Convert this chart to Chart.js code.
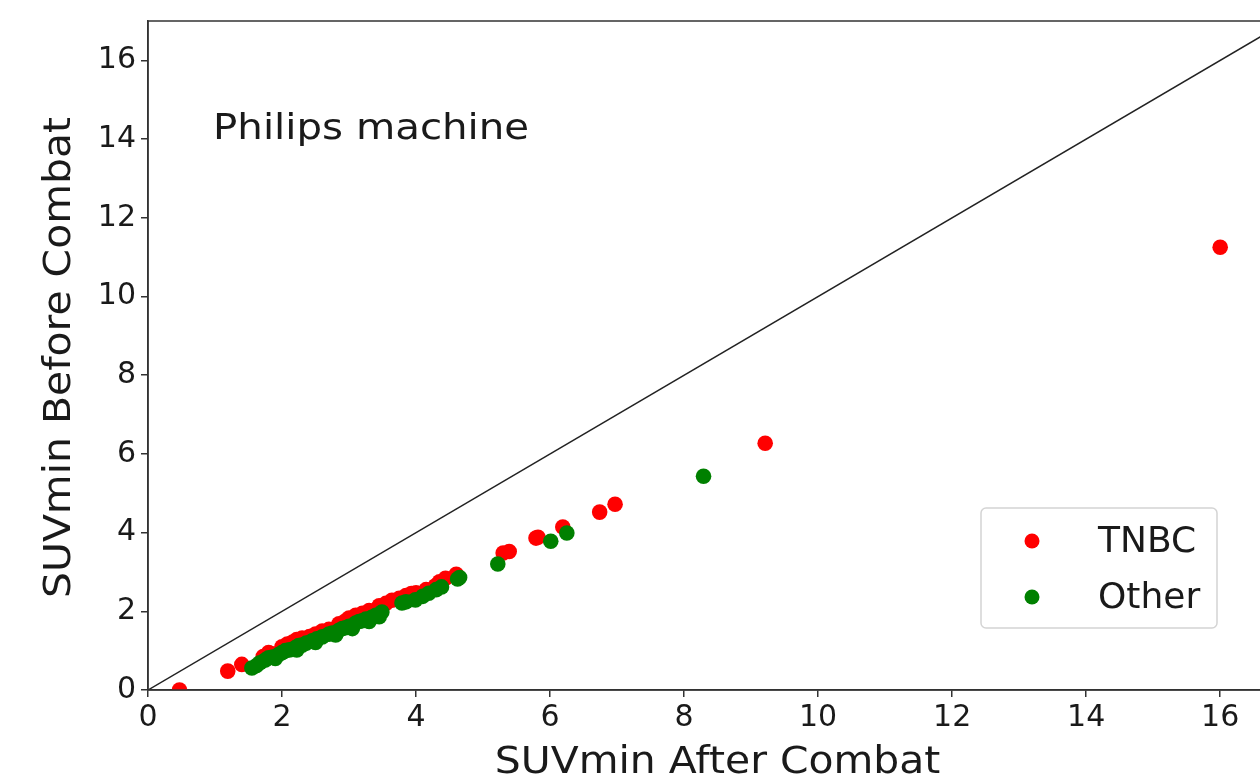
<!DOCTYPE html>
<html>
<head>
	<title>SUVmin Before / After Combat</title>
	<script src="https://cdn.jsdelivr.net/npm/chart.js"></script>
	<style type="text/css">
		html, body { margin: 0; padding: 0; background: #fff; overflow: hidden; }
		canvas { display: block; }
	</style>
</head>
<body>
	<!-- 右端は参照画像と同じく見切れる -->
	<canvas id="chart" width="1295" height="778"></canvas>

	<script>
		// TNBC points (after, before)
		var tnbcX = [0.47, 1.19, 1.40, 1.72, 1.80, 1.85, 2.00, 2.08, 2.16, 2.22, 2.30, 2.41, 2.50, 2.60, 2.70, 2.85, 2.95, 3.00, 3.10, 3.20, 3.30, 3.45, 3.55, 3.64, 3.75, 3.85, 3.93, 4.00, 4.15, 4.29, 4.35, 4.44, 4.60, 5.30, 5.39, 5.79, 5.82, 6.19, 6.74, 6.97, 9.21, 16.0];
		var tnbcY = [0.00, 0.48, 0.65, 0.85, 0.95, 0.92, 1.10, 1.17, 1.22, 1.28, 1.32, 1.36, 1.42, 1.50, 1.54, 1.68, 1.76, 1.83, 1.90, 1.95, 2.02, 2.14, 2.20, 2.28, 2.33, 2.40, 2.45, 2.47, 2.55, 2.65, 2.75, 2.84, 2.94, 3.48, 3.52, 3.86, 3.88, 4.14, 4.52, 4.72, 6.27, 11.25];
		// Other points
		var otherX = [1.55, 1.62, 1.67, 1.75, 1.80, 1.86, 1.90, 1.95, 2.00, 2.05, 2.11, 2.20, 2.22, 2.25, 2.30, 2.36, 2.45, 2.50, 2.52, 2.60, 2.70, 2.75, 2.80, 2.85, 2.90, 2.95, 3.00, 3.05, 3.10, 3.15, 3.20, 3.25, 3.30, 3.34, 3.40, 3.45, 3.49, 3.79, 3.85, 3.99, 4.10, 4.19, 4.30, 4.38, 4.62, 4.65, 5.22, 6.01, 6.25, 8.29];
		var otherY = [0.56, 0.62, 0.69, 0.76, 0.82, 0.84, 0.80, 0.90, 0.95, 1.00, 1.02, 1.08, 1.02, 1.13, 1.14, 1.19, 1.25, 1.21, 1.30, 1.35, 1.42, 1.45, 1.40, 1.52, 1.56, 1.58, 1.62, 1.56, 1.70, 1.74, 1.76, 1.80, 1.74, 1.85, 1.90, 1.86, 1.98, 2.21, 2.24, 2.29, 2.38, 2.46, 2.55, 2.62, 2.82, 2.86, 3.20, 3.78, 3.99, 5.43];
		var diagX = [0, 17];
		var xMax = 17;
		var yMax = 17;
		var seriesNames = ['TNBC', 'Other'];
		var seriesColors = ['red', 'green'];
		var xTitle = 'SUVmin After Combat';
		var yTitle = 'SUVmin Before Combat';
		var note = 'Philips machine';

		function pts(xs, ys) {
			return xs.map(function(v, i) { return {x: v, y: ys[i]}; });
		}

		var FONT = "'DejaVu Sans', sans-serif";
		var INK = '#1a1a1a';
		var STRETCH = 1.12; // 参照の文字は横に少し広い

		function wideText(c, text, x, y, align) {
			c.save();
			c.translate(x, y);
			c.scale(STRETCH, 1);
			c.textAlign = align;
			c.fillText(text, 0, 0);
			c.restore();
		}

		// 枠線 + 軸タイトル + 注記 + 凡例
		var extras = {
			id: 'extras',
			afterDraw: function(chart) {
				var c = chart.ctx, a = chart.chartArea;
				var xs = chart.scales.x, ys = chart.scales.y;
				c.save();
				c.strokeStyle = '#333';
				c.lineWidth = 1.5;
				c.strokeRect(a.left, a.top, a.right - a.left, a.bottom - a.top);

				c.fillStyle = INK;
				c.textBaseline = 'alphabetic';
				c.font = '36.5px ' + FONT;
				wideText(c, xTitle, (a.left + a.right) / 2, 773, 'center');

				c.save();
				c.translate(70, (a.top + a.bottom) / 2 + 2);
				c.rotate(-Math.PI / 2);
				wideText(c, yTitle, 0, 0, 'center');
				c.restore();

				c.font = '36px ' + FONT;
				wideText(c, note, xs.getPixelForValue(1) - 2, ys.getPixelForValue(14), 'left');

				// legend box
				var bx = 981, by = 508, bw = 236, bh = 120, r = 5;
				c.beginPath();
				c.moveTo(bx + r, by);
				c.arcTo(bx + bw, by, bx + bw, by + bh, r);
				c.arcTo(bx + bw, by + bh, bx, by + bh, r);
				c.arcTo(bx, by + bh, bx, by, r);
				c.arcTo(bx, by, bx + bw, by, r);
				c.closePath();
				c.fillStyle = 'rgba(255,255,255,0.8)';
				c.fill();
				c.strokeStyle = '#d4d4d4';
				c.lineWidth = 1.5;
				c.stroke();

				c.font = '36px ' + FONT;
				c.textAlign = 'left';
				for (var i = 0; i < seriesNames.length; i++) {
					var yy = 541 + i * 56;
					c.fillStyle = seriesColors[i];
					c.beginPath();
					c.arc(1032, yy, 7.5, 0, Math.PI * 2);
					c.fill();
					c.fillStyle = INK;
					c.fillText(seriesNames[i], 1098, yy + 11);
				}
				c.restore();
			}
		};

		var ctx = document.getElementById('chart').getContext('2d');
		var chart = new Chart(ctx, {
			type: 'scatter',
			data: {
				datasets: [{
					label: seriesNames[0],
					data: pts(tnbcX, tnbcY),
					backgroundColor: seriesColors[0],
					borderWidth: 0,
					pointRadius: 7.8,
					pointHoverRadius: 7.8,
					order: 2
				}, {
					label: seriesNames[1],
					data: pts(otherX, otherY),
					backgroundColor: seriesColors[1],
					borderWidth: 0,
					pointRadius: 7.8,
					pointHoverRadius: 7.8,
					order: 1
				}, {
					type: 'line',
					label: 'diag',
					data: pts(diagX, diagX),
					borderColor: '#222',
					borderWidth: 1.5,
					pointRadius: 0,
					fill: false,
					order: 0
				}]
			},
			plugins: [extras],
			options: {
				responsive: false,
				animation: false,
				layout: { padding: { top: 21, right: 0, bottom: 0, left: 0 } },
				plugins: {
					legend: { display: false },
					tooltip: { enabled: false }
				},
				scales: {
					x: {
						type: 'linear',
						min: 0,
						max: xMax,
						afterFit: function(s) { s.height = 88; s.paddingLeft = 0; s.paddingRight = 0; },
						ticks: { stepSize: 2, includeBounds: false, color: INK, font: { family: FONT, size: 30 }, padding: 3, maxRotation: 0 },
						grid: { drawOnChartArea: false, tickLength: 7, color: '#333', lineWidth: 1.5 },
						border: { color: '#333', width: 1.5 }
					},
					y: {
						type: 'linear',
						min: 0,
						max: yMax,
						afterFit: function(s) { s.width = 148; s.paddingTop = 0; s.paddingBottom = 0; },
						ticks: { stepSize: 2, includeBounds: false, color: INK, font: { family: FONT, size: 30 }, padding: 5 },
						grid: { drawOnChartArea: false, tickLength: 7, color: '#333', lineWidth: 1.5 },
						border: { color: '#333', width: 1.5 }
					}
				}
			}
		});
	</script>
</body>
</html>
